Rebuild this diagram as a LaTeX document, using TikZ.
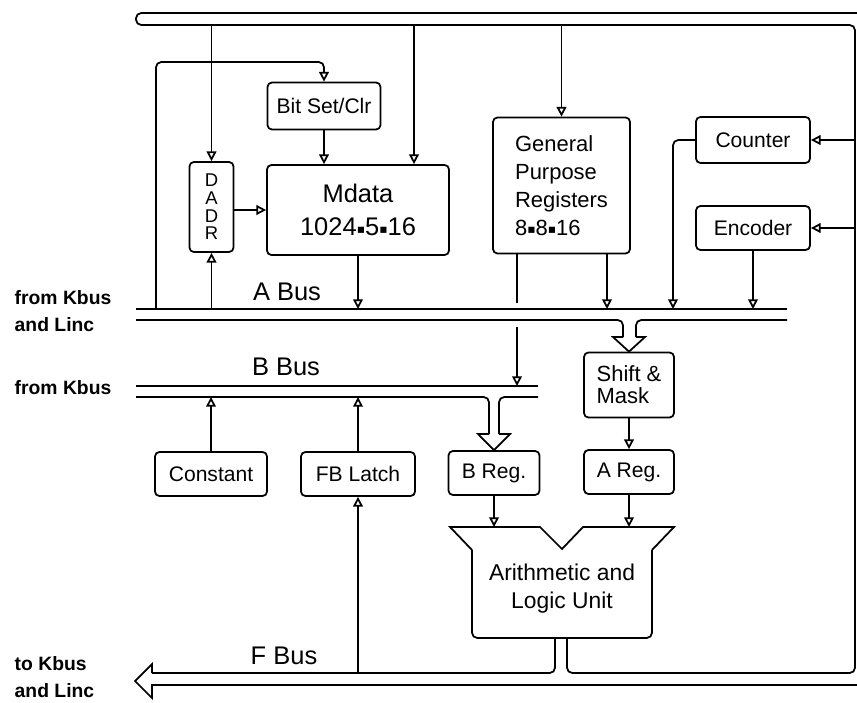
\documentclass[tikz,border=0pt]{standalone}
\usepackage{fontspec}
\setmainfont{Liberation Sans}
\newfontfamily\symfont{DejaVu Sans}
\usepackage{tikz}
\usetikzlibrary{arrows.meta}
\newcommand{\sq}{\raisebox{0.15ex}{\symfont\fontsize{7}{7}\selectfont\char"25AA}}

\begin{document}
\begin{tikzpicture}[x=0.02cm,y=-0.02cm,line width=1pt,
  blk/.style={draw,rounded corners=2.5pt,inner sep=0pt,align=center,font=\fontsize{12}{15}\selectfont},
  buslbl/.style={font=\fontsize{14.5}{17}\selectfont},
  sidelbl/.style={anchor=west,align=left,font=\bfseries\fontsize{11}{15}\selectfont},
  tip/.style={-{Triangle[open,length=5.5pt,width=5.5pt]}},
  roundbus/.style={rounded corners=3pt}]
  \useasboundingbox (0,0) rectangle (857,702);
  \coordinate (topbus) at (136,25);
  \coordinate (rside) at (855,25);
  \coordinate (abus) at (136,309);
  \coordinate (abuslo) at (136,320);
  \coordinate (bbus) at (136,386);
  \coordinate (bbuslo) at (136,397);
  \coordinate (fbus) at (152,673);
  \coordinate (alutop) at (450,527);
  \node[blk,minimum width=2.26cm,minimum height=0.94cm] (bitset) at (324,106) {Bit Set/Clr};
  \node[blk,minimum width=0.88cm,minimum height=1.8cm,font=\fontsize{10.5}{10}\selectfont] (dadr) at (211.5,207) {D\\A\\D\\R};
  \node[blk,minimum width=3.64cm,minimum height=1.8cm,font=\fontsize{14.5}{19}\selectfont] (mdata) at (358,210) {Mdata\\1024\sq5\sq16};
  \node[blk,minimum width=2.74cm,minimum height=2.72cm,align=left,font=\fontsize{12.5}{16}\selectfont] (gpr) at (561.5,185.5) {General\\Purpose\\Registers\\8\sq8\sq16};
  \node[blk,minimum width=2.28cm,minimum height=0.92cm] (counter) at (753,140) {Counter};
  \node[blk,minimum width=2.28cm,minimum height=0.88cm] (encoder) at (753,228) {Encoder};
  \node[blk,minimum width=1.8cm,minimum height=1.3cm,align=left,font=\fontsize{12.5}{12.5}\selectfont] (shift) at (629,385) {Shift \&\\Mask};
  \node[blk,minimum width=1.8cm,minimum height=0.88cm] (areg) at (629,472) {A Reg.};
  \node[blk,minimum width=1.82cm,minimum height=0.88cm] (breg) at (494,473) {B Reg.};
  \node[blk,minimum width=2.24cm,minimum height=0.88cm] (const) at (211,474) {Constant};
  \node[blk,minimum width=2.28cm,minimum height=0.88cm] (fblatch) at (358,474) {FB Latch};
  \node[align=center,font=\fontsize{13}{16}\selectfont] (alu) at (562,589) {Arithmetic and\\Logic Unit};
  \node[buslbl] (alabel) at (287,292) {A Bus};
  \node[buslbl] (blabel) at (286,367) {B Bus};
  \node[buslbl] (flabel) at (284,656) {F Bus};
  \node[sidelbl] (fromA) at (8,311) {from Kbus\\and Linc};
  \node[sidelbl] (fromB) at (8,388) {from Kbus};
  \node[sidelbl] (toF) at (8,677) {to Kbus\\and Linc};
  \draw[roundbus] (857,13) -- (136,13) -- (topbus) -- (rside) -- (855,673) -- (567,673) -- (567,638);
  \draw[roundbus] (555,638) -- (555,673) -- (fbus);
  \draw (fbus) -- (152,664) -- (135,681) -- (152,698) -- (152,685) -- (857,685);
  \draw (abus) -- (787,309);
  \draw[roundbus] (abuslo) -- (623,320) -- (623,337);
  \draw (623,337) -- (613,337) -- (shift.north) -- (645,337) -- (636,337);
  \draw[roundbus] (636,337) -- (636,320) -- (787,320);
  \draw (bbus) -- (538,386);
  \draw[roundbus] (bbuslo) -- (489,397) -- (489,434);
  \draw (489,434) -- (478,434) -- (breg.north) -- (510,434) -- (499,434);
  \draw[roundbus] (499,434) -- (499,397) -- (538,397);
  \draw[roundbus] (472,550) -- (472,638) -- (652,638) -- (652,550);
  \draw (652,550) -- (674,527) -- (583,527) -- (562,549) -- (540,527) -- (alutop) -- (472,550);
  \coordinate (mdtap) at (414,25);
  \coordinate (loop) at (156,62);
  \coordinate (gA) at (607,309);
  \coordinate (gB) at (517,386);
  \coordinate (crossup) at (517,303);
  \coordinate (crossdn) at (517,327);
  \coordinate (cnt) at (673,309);
  \draw[tip] (dadr |- topbus) -- (dadr.north);
  \draw[tip] (mdtap) -- (mdtap |- mdata.north);
  \draw[tip] (gpr |- topbus) -- (gpr);
  \draw[tip] (dadr |- abus) -- (dadr.south);
  \draw[tip] (dadr.east |- mdata.west) -- (mdata.west);
  \draw[tip,roundbus] (loop |- abus) -- (loop) -- (loop -| bitset) -- (bitset);
  \draw[tip] (bitset) -- (bitset |- mdata.north);
  \draw[tip] (mdata) -- (mdata |- abus);
  \draw[tip] (gA |- gpr.south) -- (gA);
  \draw (gB |- gpr.south) -- (crossup);
  \draw[tip] (crossdn) -- (gB);
  \draw[tip] (counter -| rside) -- (counter);
  \draw[tip] (encoder -| rside) -- (encoder);
  \draw[tip,roundbus] (counter.west) -- (counter.west -| cnt) -- (cnt);
  \draw[tip] (encoder) -- (encoder |- abus);
  \draw[tip] (shift) -- (areg);
  \draw[tip] (areg) -- (areg |- alutop);
  \draw[tip] (breg) -- (breg |- alutop);
  \draw[tip] (const) -- (const |- bbuslo);
  \draw[tip] (fblatch) -- (fblatch |- bbuslo);
  \draw[tip] (fblatch |- fbus) -- (fblatch);
\end{tikzpicture}
\end{document}
